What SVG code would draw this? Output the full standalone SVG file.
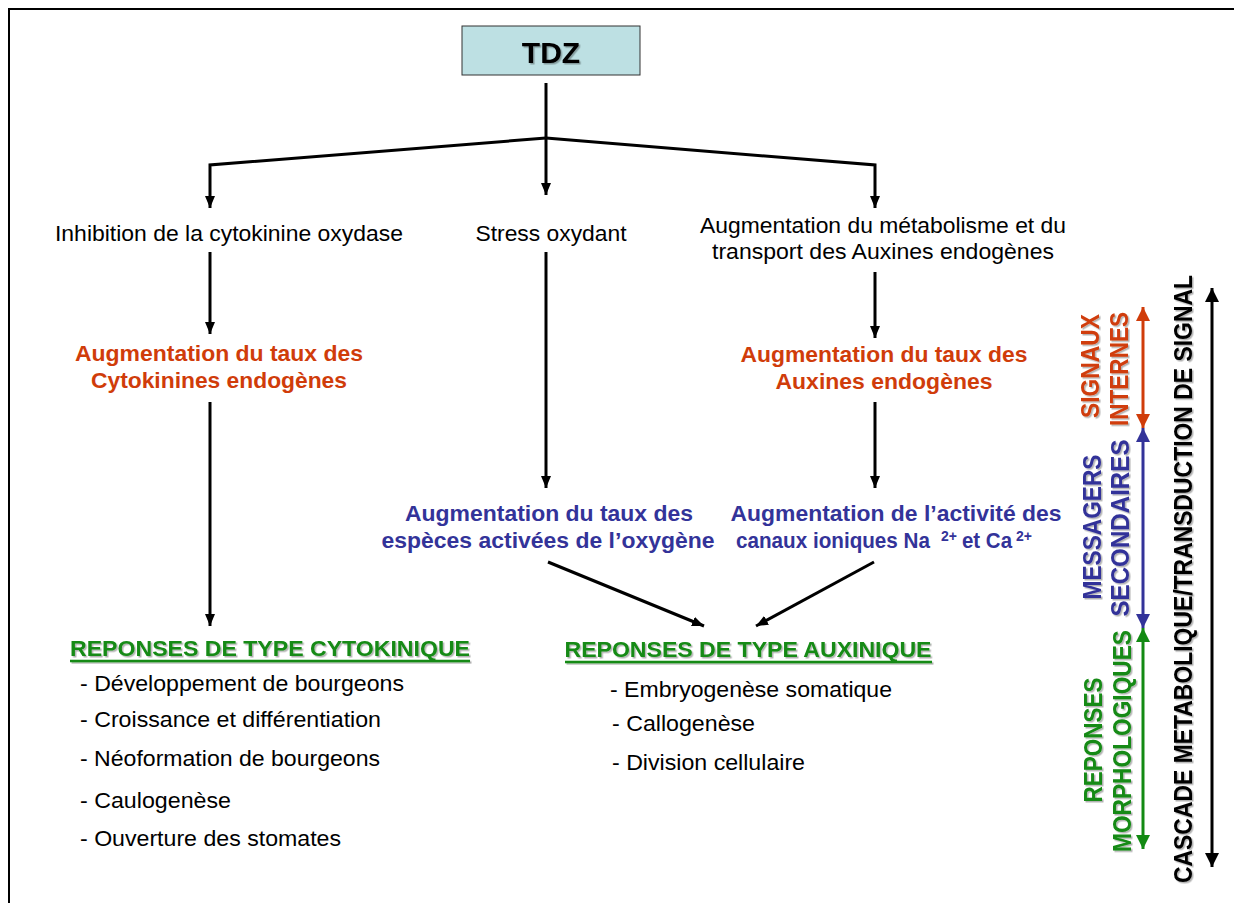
<svg xmlns="http://www.w3.org/2000/svg" width="1234" height="903" viewBox="0 0 1234 903">
<defs>
<style>
.t{font-family:"Liberation Sans",Arial,sans-serif;font-size:22px;fill:#000}
.b{font-family:"Liberation Sans",Arial,sans-serif;font-size:22px;font-weight:bold}
.sup{font-family:"Liberation Sans",Arial,sans-serif;font-size:14px;font-weight:bold}
.or{fill:#d03c0a}
.bl{fill:#333399}
.gr{fill:#138a13}
.rot{font-family:"Liberation Sans",Arial,sans-serif;font-size:25px;font-weight:bold;text-anchor:middle}
.c{stroke:#000;stroke-width:3;fill:none}
.m{text-anchor:middle}
</style>
<marker id="ak" viewBox="0 0 12 10" refX="12" refY="5" markerWidth="12" markerHeight="10" markerUnits="userSpaceOnUse" orient="auto-start-reverse"><path d="M0,0 L12,5 L0,10 z" fill="#000"/></marker>
<marker id="bk" viewBox="0 0 14 14" refX="14" refY="7" markerWidth="14" markerHeight="14" markerUnits="userSpaceOnUse" orient="auto-start-reverse"><path d="M0,0 L14,7 L0,14 z" fill="#000"/></marker>
<marker id="br" viewBox="0 0 14 14" refX="14" refY="7" markerWidth="14" markerHeight="14" markerUnits="userSpaceOnUse" orient="auto-start-reverse"><path d="M0,0 L14,7 L0,14 z" fill="#d03c0a"/></marker>
<marker id="bb" viewBox="0 0 14 14" refX="14" refY="7" markerWidth="14" markerHeight="14" markerUnits="userSpaceOnUse" orient="auto-start-reverse"><path d="M0,0 L14,7 L0,14 z" fill="#333399"/></marker>
<marker id="bg" viewBox="0 0 14 14" refX="14" refY="7" markerWidth="14" markerHeight="14" markerUnits="userSpaceOnUse" orient="auto-start-reverse"><path d="M0,0 L14,7 L0,14 z" fill="#138a13"/></marker>
<filter id="sh" x="-10%" y="-10%" width="120%" height="120%"><feDropShadow dx="1.5" dy="1.5" stdDeviation="0.6" flood-color="#000" flood-opacity="0.3"/></filter>
</defs>
<rect width="1234" height="903" fill="#fff"/>
<path d="M9,903 L9,9 L1234,9" fill="none" stroke="#000" stroke-width="2"/>

<g id="tdz">
<rect x="462" y="26" width="178" height="49" fill="#bde0e3" stroke="#333" stroke-width="1"/>
<text x="551" y="63" class="m" filter="url(#sh)" style="font-family:'Liberation Sans',Arial,sans-serif;font-size:30px;font-weight:bold">TDZ</text>
</g>

<g id="connectors">
<path class="c" d="M546,83 L546,195" marker-end="url(#ak)"/>
<path class="c" d="M546,138 L210,165 L210,208" marker-end="url(#ak)"/>
<path class="c" d="M546,138 L875,165 L875,208" marker-end="url(#ak)"/>
<path class="c" d="M210,252 L210,334" marker-end="url(#ak)"/>
<path class="c" d="M546,252 L546,488" marker-end="url(#ak)"/>
<path class="c" d="M875,272 L875,338" marker-end="url(#ak)"/>
<path class="c" d="M210,402 L210,626" marker-end="url(#ak)"/>
<path class="c" d="M875,402 L875,488" marker-end="url(#ak)"/>
<path class="c" d="M548,562 L704,626" marker-end="url(#ak)"/>
<path class="c" d="M874,562 L756,626" marker-end="url(#ak)"/>
</g>

<g id="inhibition">
<text class="t m" x="229" y="241" textLength="348" lengthAdjust="spacingAndGlyphs">Inhibition de la cytokinine oxydase</text>
</g>
<g id="stress">
<text class="t m" x="551" y="241" textLength="151" lengthAdjust="spacingAndGlyphs">Stress oxydant</text>
</g>
<g id="metabolisme">
<text class="t m" x="883" y="233" textLength="366" lengthAdjust="spacingAndGlyphs">Augmentation du métabolisme et du</text>
<text class="t m" x="883" y="259" textLength="342" lengthAdjust="spacingAndGlyphs">transport des Auxines endogènes</text>
</g>
<g id="cytokinines">
<text class="b or m" x="219" y="361" textLength="288" lengthAdjust="spacingAndGlyphs">Augmentation du taux des</text>
<text class="b or m" x="219" y="388" textLength="256" lengthAdjust="spacingAndGlyphs">Cytokinines endogènes</text>
</g>
<g id="auxines">
<text class="b or m" x="884" y="362" textLength="287" lengthAdjust="spacingAndGlyphs">Augmentation du taux des</text>
<text class="b or m" x="884" y="389" textLength="217" lengthAdjust="spacingAndGlyphs">Auxines endogènes</text>
</g>
<g id="especes">
<text class="b bl m" x="549" y="521" textLength="288" lengthAdjust="spacingAndGlyphs">Augmentation du taux des</text>
<text class="b bl m" x="548" y="548" textLength="333" lengthAdjust="spacingAndGlyphs">espèces activées de l’oxygène</text>
</g>
<g id="canaux">
<text class="b bl m" x="896" y="521" textLength="331" lengthAdjust="spacingAndGlyphs">Augmentation de l’activité des</text>
<text class="b bl" x="736" y="548" font-size="21" textLength="194" lengthAdjust="spacingAndGlyphs">canaux ioniques Na</text>
<text class="sup bl" x="941" y="541">2+</text>
<text class="b bl" x="962" y="548" font-size="21" textLength="50" lengthAdjust="spacingAndGlyphs">et Ca</text>
<text class="sup bl" x="1016" y="541">2+</text>
</g>
<g id="rep-cyto">
<g filter="url(#sh)">
<text class="b gr m" x="270" y="656" textLength="400" lengthAdjust="spacingAndGlyphs">REPONSES DE TYPE CYTOKINIQUE</text>
<line x1="70" y1="661" x2="470" y2="661" stroke="#138a13" stroke-width="2.5"/>
</g>
<text class="t" x="80" y="691" textLength="324" lengthAdjust="spacingAndGlyphs">- Développement de bourgeons</text>
<text class="t" x="80" y="727" textLength="301" lengthAdjust="spacingAndGlyphs">- Croissance et différentiation</text>
<text class="t" x="80" y="766" textLength="300" lengthAdjust="spacingAndGlyphs">- Néoformation de bourgeons</text>
<text class="t" x="80" y="808" textLength="151" lengthAdjust="spacingAndGlyphs">- Caulogenèse</text>
<text class="t" x="80" y="846" textLength="261" lengthAdjust="spacingAndGlyphs">- Ouverture des stomates</text>
</g>
<g id="rep-aux">
<g filter="url(#sh)">
<text class="b gr m" x="748" y="657" textLength="367" lengthAdjust="spacingAndGlyphs">REPONSES DE TYPE AUXINIQUE</text>
<line x1="565" y1="662" x2="932" y2="662" stroke="#138a13" stroke-width="2.5"/>
</g>
<text class="t" x="610" y="697" textLength="282" lengthAdjust="spacingAndGlyphs">- Embryogenèse somatique</text>
<text class="t" x="612" y="731" textLength="143" lengthAdjust="spacingAndGlyphs">- Callogenèse</text>
<text class="t" x="612" y="770" textLength="193" lengthAdjust="spacingAndGlyphs">- Division cellulaire</text>
</g>

<g id="signaux">
<g filter="url(#sh)">
<text class="rot or" transform="translate(1099,366) rotate(-90)" textLength="104" lengthAdjust="spacingAndGlyphs">SIGNAUX</text>
<text class="rot or" transform="translate(1128,369) rotate(-90)" textLength="114" lengthAdjust="spacingAndGlyphs">INTERNES</text>
</g>
<line x1="1143" y1="307" x2="1143" y2="428" stroke="#d03c0a" stroke-width="3" marker-start="url(#br)" marker-end="url(#br)"/>
</g>
<g id="messagers">
<g filter="url(#sh)">
<text class="rot bl" transform="translate(1101,527) rotate(-90)" textLength="145" lengthAdjust="spacingAndGlyphs">MESSAGERS</text>
<text class="rot bl" transform="translate(1129,528) rotate(-90)" textLength="177" lengthAdjust="spacingAndGlyphs">SECONDAIRES</text>
</g>
<line x1="1143" y1="428" x2="1143" y2="628" stroke="#333399" stroke-width="3" marker-start="url(#bb)" marker-end="url(#bb)"/>
</g>
<g id="morpho">
<g filter="url(#sh)">
<text class="rot gr" transform="translate(1102,740) rotate(-90)" textLength="125" lengthAdjust="spacingAndGlyphs">REPONSES</text>
<text class="rot gr" transform="translate(1131,741) rotate(-90)" textLength="222" lengthAdjust="spacingAndGlyphs">MORPHOLOGIQUES</text>
</g>
<line x1="1143" y1="628" x2="1143" y2="849" stroke="#138a13" stroke-width="3" marker-start="url(#bg)" marker-end="url(#bg)"/>
</g>
<g id="cascade">
<g filter="url(#sh)">
<text class="rot" fill="#000" transform="translate(1192,579) rotate(-90)" textLength="608" lengthAdjust="spacingAndGlyphs">CASCADE METABOLIQUE/TRANSDUCTION DE SIGNAL</text>
</g>
<line x1="1212" y1="288" x2="1212" y2="867" stroke="#000" stroke-width="3" marker-start="url(#bk)" marker-end="url(#bk)"/>
</g>
</svg>
